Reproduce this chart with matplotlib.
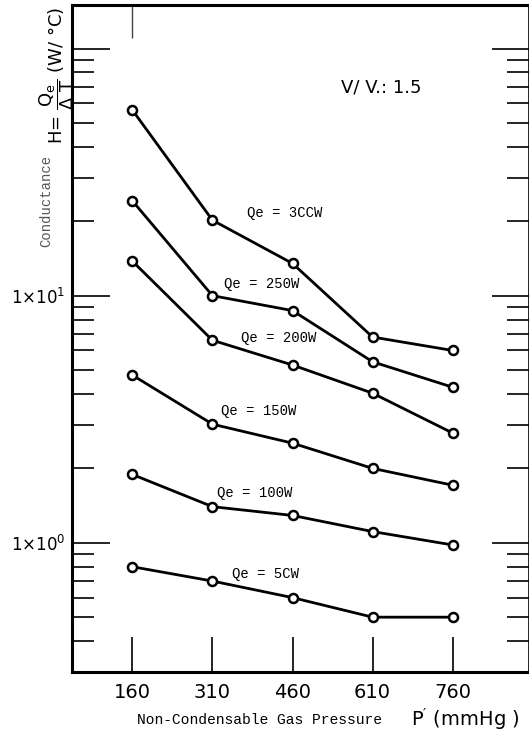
import matplotlib
matplotlib.use("Agg")
import matplotlib.pyplot as plt
from matplotlib.ticker import FixedLocator, NullFormatter, NullLocator

plt.rcParams["mathtext.default"] = "regular"

# Non-condensable gas pressure (mmHg)
pressure = [160, 310, 460, 610, 760]
pressure_labels = ["160", "310", "460", "610", "760"]

# Conductance H (W/°C) for each heat input Qe
h_300w = [56.4, 20.2, 13.5, 6.8, 6.0]
h_250w = [24.2, 10.0, 8.7, 5.4, 4.26]
h_200w = [13.8, 6.6, 5.24, 4.03, 2.78]
h_150w = [4.77, 3.02, 2.53, 2.00, 1.71]
h_100w = [1.89, 1.40, 1.29, 1.11, 0.98]
h_50w = [0.80, 0.70, 0.60, 0.50, 0.50]

series = [h_300w, h_250w, h_200w, h_150w, h_100w, h_50w]
series_labels = ["Qe = 3CCW", "Qe = 250W", "Qe = 200W", "Qe = 150W", "Qe = 100W", "Qe = 5CW"]
label_pos = [(446, 21.6), (403, 11.15), (435, 6.74), (396, 3.41), (390, 1.585), (410, 0.751)]

mono = ["Liberation Mono", "DejaVu Sans Mono"]

fig = plt.figure(figsize=(5.29, 7.35), dpi=100)
ax = fig.add_axes([72 / 529, 63 / 735, 456.5 / 529, 667 / 735])

for vals in series:
    ax.plot(pressure, vals, color="black", lw=2.0, marker="o", ms=6.5,
            mfc="white", mec="black", mew=1.8, zorder=3)

for text, (x, y) in zip(series_labels, label_pos):
    ax.text(x, y, text, family=mono, fontsize=10, ha="center", va="center")

ax.text(0.677, 0.877, "V/ V.: 1.5", transform=ax.transAxes, fontsize=13,
        ha="center", va="center")

ax.set_yscale("log")
ax.set_xlim(47, 902)
ax.set_ylim(0.3, 150)

# x ticks: long inward lines at each measured pressure
ax.set_xticks(pressure)
ax.set_xticklabels(pressure_labels, fontsize=14)
ax.tick_params(axis="x", which="major", direction="in", length=25, width=1.2,
               top=False, bottom=True, pad=8)
ax.xaxis.set_minor_locator(NullLocator())

# short mark hanging from the top frame at the first pressure
top = ax.secondary_xaxis("top")
top.set_xticks(pressure[:1])
top.set_xticklabels([])
top.tick_params(direction="in", length=24, width=1.0, colors="#444444")
top.spines["top"].set_visible(False)

# y ticks on both sides, pointing inward
ax.yaxis.set_major_locator(FixedLocator([1, 10, 100]))
ax.yaxis.set_minor_locator(FixedLocator(
    [0.3, 0.4, 0.5, 0.6, 0.7, 0.8, 0.9] + list(range(2, 10)) + list(range(20, 100, 10))))
ax.yaxis.set_minor_formatter(NullFormatter())
ax.set_yticklabels([r"1$\times$10$^{0}$", r"1$\times$10$^{1}$", ""])
ax.tick_params(axis="y", which="major", direction="in", length=27, width=1.2,
               left=True, right=True, labelsize=12, pad=5)
ax.tick_params(axis="y", which="minor", direction="in", length=16, width=1.2,
               left=True, right=True)

for side in ["left", "bottom", "top"]:
    ax.spines[side].set_linewidth(2.2)
ax.spines["right"].set_linewidth(1.2)

# axis titles
fig.text(0.491, 0.021, "Non-Condensable Gas Pressure", family=mono, fontsize=10.5,
         ha="center", va="center")
fig.text(0.879, 0.022, "P$'$ (mmHg )", fontsize=14, ha="center", va="center")
fig.text(0.087, 0.727, "Conductance", family=mono, fontsize=10, color="#555555",
         rotation=90, ha="center", va="center")
fig.text(0.108, 0.898, r"H= $\dfrac{Q_e}{\Delta\ T}$ (W/ °C)", fontsize=13,
         rotation=90, ha="center", va="center")

fig.savefig("out.png", dpi=100)
